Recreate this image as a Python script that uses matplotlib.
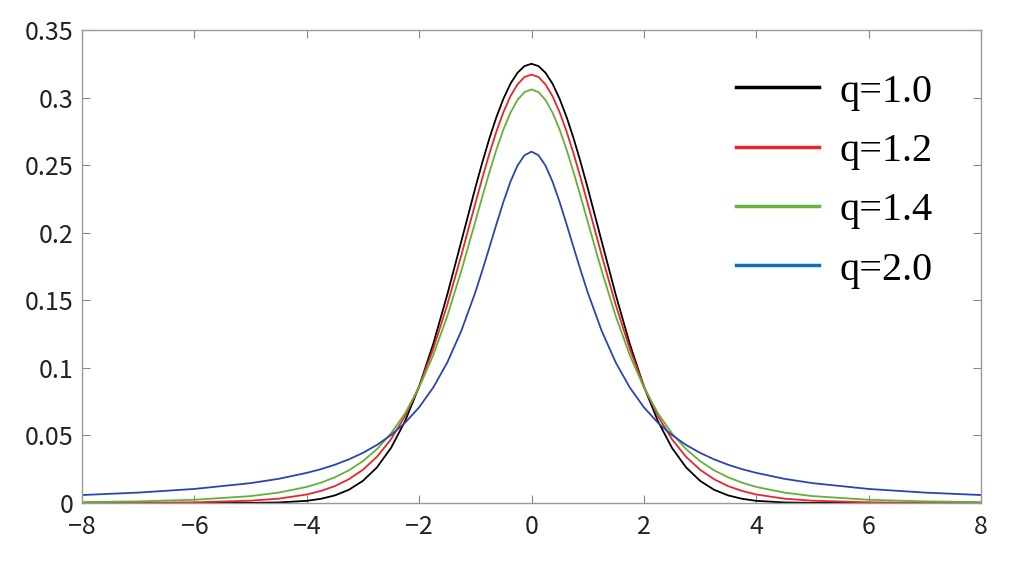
import matplotlib
matplotlib.use('Agg')
import matplotlib.pyplot as plt
from matplotlib.lines import Line2D

x = [-8, -7, -6, -5, -4.5, -4, -3.75, -3.5, -3.25, -3, -2.75, -2.5, -2.25, -2, -1.75,
     -1.5, -1.25, -1, -0.875, -0.75, -0.625, -0.5, -0.375, -0.25, -0.125, 0,
     0.125, 0.25, 0.375, 0.5, 0.625, 0.75, 0.875, 1, 1.25, 1.5, 1.75, 2, 2.25, 2.5,
     2.75, 3, 3.25, 3.5, 3.75, 4, 4.5, 5, 6, 7, 8]

q10 = [0.0, 0.0, 0.0, 0.0001, 0.0004, 0.0016, 0.0031, 0.0056, 0.0098, 0.0164, 0.0264,
       0.0408, 0.0606, 0.0862, 0.1176, 0.1540, 0.1935, 0.2332, 0.2521, 0.2697, 0.2855,
       0.2991, 0.3102, 0.3183, 0.3233, 0.325,
       0.3233, 0.3183, 0.3102, 0.2991, 0.2855, 0.2697, 0.2521, 0.2332, 0.1935, 0.1540,
       0.1176, 0.0862, 0.0606, 0.0408, 0.0264, 0.0164, 0.0098, 0.0056, 0.0031, 0.0016,
       0.0004, 0.0001, 0.0, 0.0, 0.0]

q12 = [0.00005, 0.00015, 0.0005, 0.0017, 0.0032, 0.0063, 0.0089, 0.0125, 0.0176, 0.0246,
       0.0342, 0.0472, 0.0644, 0.0864, 0.1139, 0.1465, 0.1832, 0.2216, 0.2405, 0.2584,
       0.2748, 0.2892, 0.3010, 0.3097, 0.3152, 0.317,
       0.3152, 0.3097, 0.3010, 0.2892, 0.2748, 0.2584, 0.2405, 0.2216, 0.1832, 0.1465,
       0.1139, 0.0864, 0.0644, 0.0472, 0.0342, 0.0246, 0.0176, 0.0125, 0.0089, 0.0063,
       0.0032, 0.0017, 0.0005, 0.00015, 0.00005]

q14 = [0.0007, 0.0012, 0.0024, 0.0051, 0.0077, 0.0119, 0.0150, 0.0190, 0.0242, 0.0310,
       0.0399, 0.0515, 0.0664, 0.0855, 0.1093, 0.1382, 0.1717, 0.2083, 0.2267, 0.2446,
       0.2614, 0.2764, 0.2888, 0.2982, 0.3040, 0.306,
       0.3040, 0.2982, 0.2888, 0.2764, 0.2614, 0.2446, 0.2267, 0.2083, 0.1717, 0.1382,
       0.1093, 0.0855, 0.0664, 0.0515, 0.0399, 0.0310, 0.0242, 0.0190, 0.0150, 0.0119,
       0.0077, 0.0051, 0.0024, 0.0012, 0.0007]

q20 = [0.0059, 0.0077, 0.0104, 0.0147, 0.0179, 0.0223, 0.0250, 0.0283, 0.0323, 0.0371,
       0.0430, 0.0503, 0.0594, 0.0708, 0.0854, 0.1039, 0.1273, 0.1559, 0.1721, 0.1890,
       0.2062, 0.2228, 0.2377, 0.2496, 0.2573, 0.26,
       0.2573, 0.2496, 0.2377, 0.2228, 0.2062, 0.1890, 0.1721, 0.1559, 0.1273, 0.1039,
       0.0854, 0.0708, 0.0594, 0.0503, 0.0430, 0.0371, 0.0323, 0.0283, 0.0250, 0.0223,
       0.0179, 0.0147, 0.0104, 0.0077, 0.0059]

labels = ['q=1.0', 'q=1.2', 'q=1.4', 'q=2.0']
xticks = [-8, -6, -4, -2, 0, 2, 4, 6, 8]
xticklabels = ['\u22128', '\u22126', '\u22124', '\u22122', '0', '2', '4', '6', '8']
yticks = [0, 0.05, 0.1, 0.15, 0.2, 0.25, 0.3, 0.35]
yticklabels = ['0', '0.05', '0.1', '0.15', '0.2', '0.25', '0.3', '0.35']

line_colors = ['#000000', '#e8262a', '#62b233', '#2b45b0']
legend_colors = ['#000000', '#e8262a', '#6ab23e', '#0b6fc0']

tick_font = ['Noto Sans CJK JP', 'DejaVu Sans']

fig = plt.figure(figsize=(10.23, 5.68), dpi=100)
ax = fig.add_axes([82 / 1023, 1 - 503 / 568, (981 - 82) / 1023, (503 - 30) / 568])

for ys, c in zip([q10, q12, q14, q20], line_colors):
    ax.plot(x, ys, color=c, linewidth=1.3)

ax.set_xlim(-8, 8)
ax.set_ylim(0, 0.35)
ax.set_xticks(xticks)
ax.set_xticklabels(xticklabels, family=tick_font, fontsize=18, color='#222222')
ax.set_yticks(yticks)
ax.set_yticklabels(yticklabels, family=tick_font, fontsize=18, color='#222222')
ax.tick_params(direction='in', top=True, right=True, length=6, width=0.8,
               color='#888888')
ax.tick_params(axis='x', pad=8)
ax.tick_params(axis='y', pad=6)
for s in ax.spines.values():
    s.set_color('#999999')
    s.set_linewidth(1.0)

handles = [Line2D([0], [0], color=c, linewidth=2.5) for c in legend_colors]
leg = ax.legend(handles, labels, loc='upper right', bbox_to_anchor=(0.986, 0.985),
                frameon=False, handlelength=2.05, handletextpad=0.5, labelspacing=0.55,
                prop={'family': 'Liberation Serif', 'size': 29})

fig.savefig('out.png', dpi=100)
